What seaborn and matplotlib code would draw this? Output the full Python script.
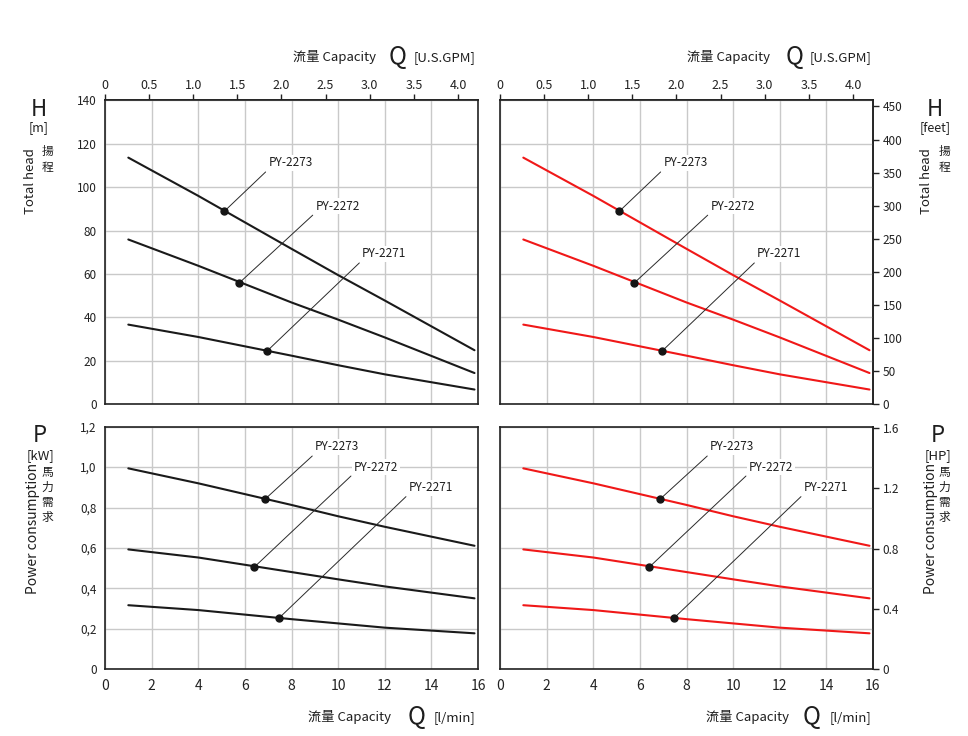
import numpy as np
import pandas as pd
import matplotlib
matplotlib.use("Agg")
import matplotlib.pyplot as plt
import seaborn as sns

# ---------------- data ----------------
models = ["PY-2273", "PY-2272", "PY-2271"]
q_lmin = [1.0, 4.0, 8.0, 10.0, 12.0, 15.85]          # capacity [l/min]
head_2273 = [113.6, 96.0, 71.6, 59.5, 47.8, 24.9]     # total head [m]
head_2272 = [75.9, 63.8, 46.9, 39.0, 30.8, 14.4]
head_2271 = [36.7, 31.0, 22.4, 18.0, 13.8, 6.8]
power_2273 = [0.994, 0.920, 0.813, 0.757, 0.705, 0.611]  # power [kW]
power_2272 = [0.593, 0.553, 0.481, 0.445, 0.410, 0.351]
power_2271 = [0.317, 0.293, 0.248, 0.227, 0.206, 0.178]

# marker dots on curves and leader line ends (data coords)
head_dot_q = [5.12, 5.76, 6.96]
head_dot_h = [88.9, 55.9, 24.6]
head_lead_q = [6.89, 8.91, 10.91]
head_lead_h = [107.0, 87.1, 65.1]
power_dot_q = [6.86, 6.39, 7.48]
power_dot_p = [0.841, 0.504, 0.255]
power_lead_q = [8.89, 10.55, 12.91]
power_lead_p = [1.055, 0.956, 0.854]

x_ticks = [0, 2, 4, 6, 8, 10, 12, 14, 16]
gpm_ticks = [0, 0.5, 1.0, 1.5, 2.0, 2.5, 3.0, 3.5, 4.0]
gpm_labels = ["0", "0.5", "1.0", "1.5", "2.0", "2.5", "3.0", "3.5", "4.0"]
h_ticks = [0, 20, 40, 60, 80, 100, 120, 140]
ft_ticks = [0, 50, 100, 150, 200, 250, 300, 350, 400, 450]
kw_ticks = [0, 0.2, 0.4, 0.6, 0.8, 1.0, 1.2]
kw_labels = ["0", "0,2", "0,4", "0,6", "0,8", "1,0", "1,2"]
hp_ticks = [0, 0.4, 0.8, 1.2, 1.6]
hp_labels = ["0", "0.4", "0.8", "1.2", "1.6"]

LMIN_PER_GPM = 3.78541
FT_PER_M = 3.28084
HP_PER_KW = 1.34102

heads = [head_2273, head_2272, head_2271]
powers = [power_2273, power_2272, power_2271]

# ---------------- style ----------------
sns.set_style("white")
plt.rcParams["font.family"] = ["Noto Sans CJK TC", "DejaVu Sans"]
plt.rcParams["axes.linewidth"] = 1.2
plt.rcParams["axes.edgecolor"] = "#222222"
plt.rcParams["xtick.color"] = "#222222"
plt.rcParams["ytick.color"] = "#222222"

W, H = 968, 736
fig = plt.figure(figsize=(W / 100, H / 100), dpi=100)


def rect(x0, y0, x1, y1):
    return [x0 / W, 1 - y1 / H, (x1 - x0) / W, (y1 - y0) / H]


def ftext(x, y, s, **kw):
    fig.text(x / W, 1 - y / H, s, **kw)


GRID = "#c9c9c9"
TXT = "#1e1e1e"

ax_hl = fig.add_axes(rect(105, 100.3, 478, 404.3))
ax_hr = fig.add_axes(rect(500, 100.3, 873, 404.3))
ax_pl = fig.add_axes(rect(105, 426.7, 478, 669.3))
ax_pr = fig.add_axes(rect(500, 426.7, 873, 669.3))

panels = [
    (ax_hl, heads, "#1a1a1a", "H", head_dot_q, head_dot_h, head_lead_q, head_lead_h),
    (ax_hr, heads, "#f01818", "H", head_dot_q, head_dot_h, head_lead_q, head_lead_h),
    (ax_pl, powers, "#1a1a1a", "P", power_dot_q, power_dot_p, power_lead_q, power_lead_p),
    (ax_pr, powers, "#f01818", "P", power_dot_q, power_dot_p, power_lead_q, power_lead_p),
]

for ax, series, col, kind, dq, dv, lq, lv in panels:
    ax.set_xlim(0, 16)
    ax.set_xticks(x_ticks)
    if kind == "H":
        ax.set_ylim(0, 140)
        ax.set_yticks(h_ticks)
    else:
        ax.set_ylim(0, 1.2)
        ax.set_yticks(kw_ticks)
    ax.grid(True, color=GRID, lw=1.0)
    ax.set_axisbelow(True)
    for s in ax.spines.values():
        s.set_visible(True)
        s.set_color("#222222")
        s.set_linewidth(1.2)
    for vals in series:
        sns.lineplot(x=q_lmin, y=vals, ax=ax, color=col, lw=1.5, zorder=3)
    for i, name in enumerate(models):
        ax.plot([dq[i], lq[i]], [dv[i], lv[i]], color="#2a2a2a", lw=0.7, zorder=4)
        ax.plot([dq[i]], [dv[i]], "o", color="#151515", ms=5, zorder=5)
        ax.annotate(name, xy=(lq[i], lv[i]), xytext=(2, 6.5), textcoords="offset points",
                    ha="left", va="center", fontsize=8.5, color=TXT, zorder=6,
                    bbox=dict(boxstyle="square,pad=0.12", fc="white", ec="none"))
    ax.tick_params(direction="out", length=4, width=1, labelsize=8.5, pad=2)

# top panels: GPM secondary axis on top, no bottom labels
for ax in (ax_hl, ax_hr):
    ax.tick_params(bottom=False, labelbottom=False)
    sec = ax.secondary_xaxis("top", functions=(lambda q: q / LMIN_PER_GPM, lambda g: g * LMIN_PER_GPM))
    sec.set_xticks(gpm_ticks)
    sec.set_xticklabels(gpm_labels)
    sec.tick_params(direction="out", length=4, width=1, labelsize=9, pad=2, colors="#222222")

# bottom panels: l/min labels
for ax in (ax_pl, ax_pr):
    ax.tick_params(axis="x", labelsize=10, pad=3)

# left panels y labels
ax_hl.set_yticklabels([str(t) for t in h_ticks])
ax_pl.set_yticklabels(kw_labels)

# right panels: secondary y axes
for ax in (ax_hr, ax_pr):
    ax.tick_params(left=False, labelleft=False)
sec_ft = ax_hr.secondary_yaxis("right", functions=(lambda m: m * FT_PER_M, lambda f: f / FT_PER_M))
sec_ft.set_yticks(ft_ticks)
sec_ft.set_yticklabels([str(t) for t in ft_ticks])
sec_ft.tick_params(direction="out", length=4, width=1, labelsize=8.5, pad=3, colors="#222222")
sec_hp = ax_pr.secondary_yaxis("right", functions=(lambda k: k * HP_PER_KW, lambda h: h / HP_PER_KW))
sec_hp.set_yticks(hp_ticks)
sec_hp.set_yticklabels(hp_labels)
sec_hp.tick_params(direction="out", length=4, width=1, labelsize=8.5, pad=3, colors="#222222")

for ax in (ax_hl, ax_hr, ax_pl, ax_pr):
    ax.set_xlabel("")
    ax.set_ylabel("")

# ---------------- axis titles ----------------
small = dict(color=TXT, fontsize=9.5)
big = dict(color=TXT, fontsize=16)
bigq = dict(color=TXT, fontsize=17.5)

# top capacity labels
for right_cap, qx, br_left in [(376, 398, 414), (770, 795, 810)]:
    ftext(right_cap, 61, "流量 Capacity", ha="right", va="baseline", **small)
    ftext(qx, 64, "Q", ha="center", va="baseline", **bigq)
    ftext(br_left, 61, "[U.S.GPM]", ha="left", va="baseline", **small)
# bottom capacity labels
for right_cap, qx, br_left in [(391, 416.5, 434), (789, 812, 830)]:
    ftext(right_cap, 721, "流量 Capacity", ha="right", va="baseline", **small)
    ftext(qx, 724, "Q", ha="center", va="baseline", **bigq)
    ftext(br_left, 721, "[l/min]", ha="left", va="baseline", **small)

# head labels
for hx, unit, tx, cx in [(38.5, "[m]", 30, 47.5), (935, "[feet]", 927, 945)]:
    ftext(hx, 110, "H", ha="center", va="center", **big)
    ftext(hx, 128, unit, ha="center", va="center", color=TXT, fontsize=9)
    ftext(tx, 181, "Total head", ha="center", va="center", rotation=90, **small)
    ftext(cx, 160, "揚\n程", ha="center", va="center", color=TXT, fontsize=8.5, linespacing=1.3)

# power labels
for px, unit, tx, cx in [(40, "[kW]", 33, 47), (938, "[HP]", 931, 944)]:
    ftext(px, 436, "P", ha="center", va="center", **big)
    ftext(px, 456, unit, ha="center", va="center", color=TXT, fontsize=9.5)
    ftext(tx, 528, "Power consumption", ha="center", va="center", rotation=90, color=TXT, fontsize=10)
    ftext(cx, 495, "馬\n力\n需\n求", ha="center", va="center", color=TXT, fontsize=8.5, linespacing=1.2)

fig.savefig("out.png", dpi=100, facecolor="white")
